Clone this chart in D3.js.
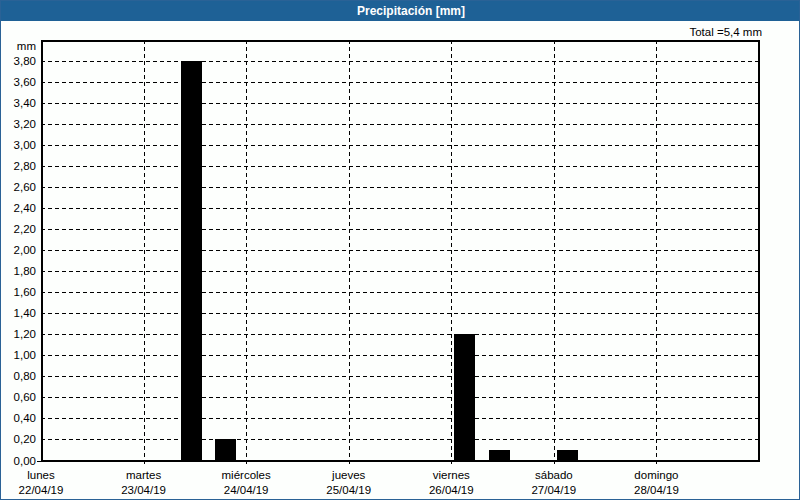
<!DOCTYPE html>
<html>
<head>
<meta charset="utf-8">
<script src="https://cdn.jsdelivr.net/npm/d3@7"></script>
<style>
html,body{margin:0;padding:0;background:#fff;}
svg{display:block;}
text{font-family:"Liberation Sans",Arial,sans-serif;}
</style>
</head>
<body>
<svg id="chart" width="800" height="500"></svg>
<script>
const chartTitle = "Precipitación [mm]";
const totalLabel = "Total =5,4 mm";
const unitLabel = "mm";
const dayNames = ["lunes","martes","miércoles","jueves","viernes","sábado","domingo"];
const dayDates = ["22/04/19","23/04/19","24/04/19","25/04/19","26/04/19","27/04/19","28/04/19"];
// 8-hour accumulation periods (start time) and values in mm
const barStarts = ["2019-04-23 08:00","2019-04-23 16:00","2019-04-26 00:00","2019-04-26 08:00","2019-04-27 00:00"];
const barValues = [3.8, 0.2, 1.2, 0.1, 0.1];
const yTicks = [0,0.2,0.4,0.6,0.8,1.0,1.2,1.4,1.6,1.8,2.0,2.2,2.4,2.6,2.8,3.0,3.2,3.4,3.6,3.8];

const W = 800, H = 500;
const m = {left: 41, right: 759, top: 40, bottom: 460.5};
const parse = d3.timeParse("%Y-%m-%d %H:%M");
const parseDay = d3.timeParse("%d/%m/%y");
const days = dayDates.map(parseDay);
const start = days[0];
const end = d3.timeDay.offset(days[days.length-1], 1);
const binMs = 8*3600*1000;

const x = d3.scaleTime().domain([start, end]).range([m.left, m.right]);
const y = d3.scaleLinear().domain([0, 4.0]).range([m.bottom, m.top]);

const svg = d3.select("#chart");
svg.append("rect").attr("x",0).attr("y",0).attr("width",W).attr("height",H).attr("fill","#fdfffd");

// title bar
svg.append("rect").attr("x",0).attr("y",0).attr("width",W).attr("height",21).attr("fill","#1e6196");
svg.append("text").attr("x",411).attr("y",15).attr("text-anchor","middle")
  .attr("fill","#fff").attr("font-weight","bold").attr("font-size","12px").text(chartTitle);
// outer border
svg.append("rect").attr("x",0.5).attr("y",0.5).attr("width",W-1).attr("height",H-1)
  .attr("fill","none").attr("stroke","#2a6296").attr("stroke-width",1);

svg.append("text").attr("x",762).attr("y",36).attr("text-anchor","end")
  .attr("font-size","11.5px").attr("fill","#000").text(totalLabel);

// horizontal grid
const g = svg.append("g");
g.selectAll("line.hg").data(yTicks.filter(d=>d>0)).join("line")
  .attr("x1",m.left).attr("x2",m.right)
  .attr("y1",d=>Math.round(y(d))+0.5).attr("y2",d=>Math.round(y(d))+0.5)
  .attr("stroke","#000").attr("stroke-width",1).attr("stroke-dasharray","4,3");
// vertical grid at day boundaries (extend a bit below axis)
g.selectAll("line.vg").data(days.slice(1)).join("line")
  .attr("x1",d=>Math.round(x(d))+0.5).attr("x2",d=>Math.round(x(d))+0.5)
  .attr("y1",m.top).attr("y2",m.bottom+4)
  .attr("stroke","#000").attr("stroke-width",1).attr("stroke-dasharray","4,3");

// bars
g.selectAll("rect.bar").data(barValues).join("rect")
  .attr("x",(d,i)=>{const s=parse(barStarts[i]); const x0=x(s), x1=x(new Date(+s+binMs)); return Math.round(x0+(x1-x0)*0.09);})
  .attr("width",(d,i)=>{const s=parse(barStarts[i]); const x0=x(s), x1=x(new Date(+s+binMs)); return Math.round((x1-x0)*0.61);})
  .attr("y",d=>Math.round(y(d)))
  .attr("height",d=>Math.round(y(0))-Math.round(y(d)))
  .attr("fill","#000");

// plot frame
svg.append("rect").attr("x",m.left+0.5).attr("y",m.top+0.5)
  .attr("width",m.right-m.left-1).attr("height",m.bottom-m.top)
  .attr("fill","none").attr("stroke","#000").attr("stroke-width",2)
  .attr("shape-rendering","crispEdges");
// small tick at 0
svg.append("line").attr("x1",m.left-4).attr("x2",m.left).attr("y1",Math.round(y(0))+0.5).attr("y2",Math.round(y(0))+0.5)
  .attr("stroke","#000").attr("stroke-width",1);

// y axis labels
const fmt = v => d3.format(".2f")(v).replace(".",",");
svg.append("g").selectAll("text").data(yTicks).join("text")
  .attr("x",36).attr("y",d=>y(d)+4).attr("text-anchor","end")
  .attr("font-size","11.5px").attr("fill","#000").text(fmt);
svg.append("text").attr("x",36).attr("y",50).attr("text-anchor","end")
  .attr("font-size","11.5px").attr("fill","#000").text(unitLabel);

// x labels
const xl = svg.append("g");
xl.selectAll("text.dn").data(days).join("text")
  .attr("x",d=>x(d)).attr("y",479).attr("text-anchor","middle")
  .attr("font-size","11.5px").attr("fill","#000").text((d,i)=>dayNames[i]);
xl.selectAll("text.dd").data(days).join("text")
  .attr("x",d=>x(d)).attr("y",494).attr("text-anchor","middle")
  .attr("font-size","11.5px").attr("fill","#000").text((d,i)=>dayDates[i]);
</script>
</body>
</html>
